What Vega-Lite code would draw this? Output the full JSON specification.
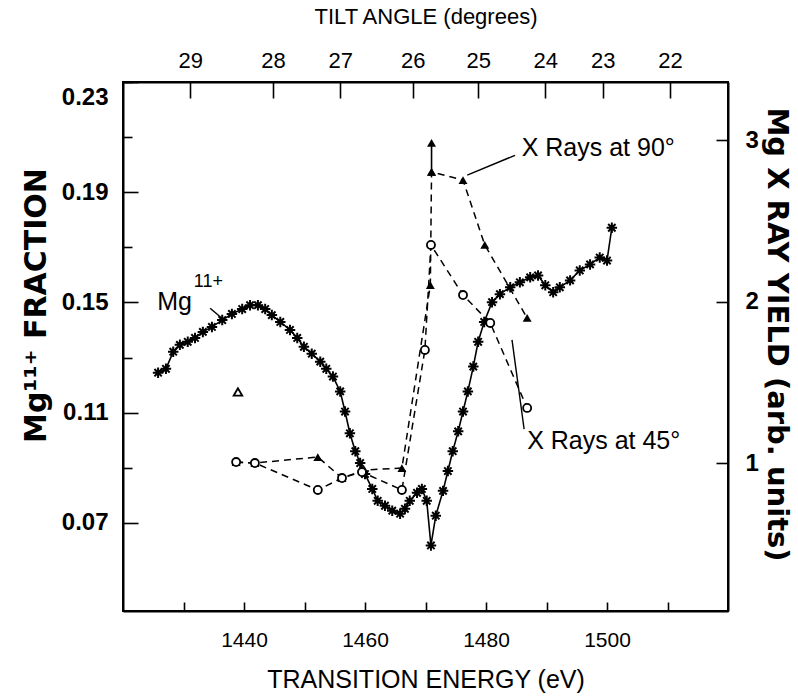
{
  "$schema": "https://vega.github.io/schema/vega-lite/v6.json",
  "width": 605,
  "height": 529,
  "autosize": {"type": "none"},
  "padding": {"left": 123, "top": 82, "right": 70, "bottom": 85},
  "background": "white",
  "config": {
    "view": {"stroke": "black", "strokeWidth": 2},
    "font": "Liberation Sans",
    "axis": {
      "grid": false,
      "domainColor": "black",
      "domainWidth": 2,
      "tickColor": "black",
      "tickWidth": 1.6,
      "labelColor": "black",
      "titleColor": "black",
      "labelFont": "Liberation Sans",
      "titleFont": "Liberation Sans",
      "labelFontSize": 21,
      "titleFontSize": 21,
      "labelFlush": false,
      "labelOverlap": false
    }
  },
  "datasets": {
    "mg": [
      {"energy": 1425.8, "fraction": 0.1245}, {"energy": 1427.1, "fraction": 0.1259},
      {"energy": 1428.3, "fraction": 0.1321}, {"energy": 1429.4, "fraction": 0.1346},
      {"energy": 1430.7, "fraction": 0.1357}, {"energy": 1431.9, "fraction": 0.1371},
      {"energy": 1433.2, "fraction": 0.1393}, {"energy": 1434.7, "fraction": 0.1411},
      {"energy": 1436.4, "fraction": 0.1436}, {"energy": 1438.0, "fraction": 0.1458},
      {"energy": 1439.7, "fraction": 0.1476}, {"energy": 1441.0, "fraction": 0.1490},
      {"energy": 1442.3, "fraction": 0.1490}, {"energy": 1443.5, "fraction": 0.1476},
      {"energy": 1444.6, "fraction": 0.1454}, {"energy": 1446.0, "fraction": 0.1429},
      {"energy": 1447.6, "fraction": 0.1400}, {"energy": 1448.8, "fraction": 0.1371},
      {"energy": 1449.9, "fraction": 0.1339}, {"energy": 1451.2, "fraction": 0.1314},
      {"energy": 1452.6, "fraction": 0.1285}, {"energy": 1453.6, "fraction": 0.1259},
      {"energy": 1454.7, "fraction": 0.1231}, {"energy": 1455.9, "fraction": 0.1177},
      {"energy": 1456.7, "fraction": 0.1104}, {"energy": 1457.5, "fraction": 0.1025},
      {"energy": 1458.4, "fraction": 0.0960}, {"energy": 1459.2, "fraction": 0.0917},
      {"energy": 1460.0, "fraction": 0.0877}, {"energy": 1461.2, "fraction": 0.0823},
      {"energy": 1462.1, "fraction": 0.0780}, {"energy": 1463.3, "fraction": 0.0762},
      {"energy": 1464.5, "fraction": 0.0744}, {"energy": 1465.8, "fraction": 0.0733},
      {"energy": 1466.6, "fraction": 0.0751}, {"energy": 1467.4, "fraction": 0.0780},
      {"energy": 1468.6, "fraction": 0.0809}, {"energy": 1469.4, "fraction": 0.0823},
      {"energy": 1470.2, "fraction": 0.0780}, {"energy": 1470.9, "fraction": 0.0618},
      {"energy": 1471.7, "fraction": 0.0726}, {"energy": 1472.9, "fraction": 0.0816},
      {"energy": 1473.7, "fraction": 0.0888}, {"energy": 1474.5, "fraction": 0.0960},
      {"energy": 1475.4, "fraction": 0.1032}, {"energy": 1476.2, "fraction": 0.1104},
      {"energy": 1477.0, "fraction": 0.1177}, {"energy": 1477.9, "fraction": 0.1267},
      {"energy": 1478.7, "fraction": 0.1357}, {"energy": 1479.7, "fraction": 0.1429},
      {"energy": 1481.0, "fraction": 0.1501}, {"energy": 1482.3, "fraction": 0.1530},
      {"energy": 1484.0, "fraction": 0.1555}, {"energy": 1485.6, "fraction": 0.1573},
      {"energy": 1487.3, "fraction": 0.1591}, {"energy": 1488.6, "fraction": 0.1598},
      {"energy": 1489.8, "fraction": 0.1562}, {"energy": 1491.1, "fraction": 0.1537},
      {"energy": 1492.2, "fraction": 0.1555}, {"energy": 1493.9, "fraction": 0.1580},
      {"energy": 1495.5, "fraction": 0.1616}, {"energy": 1497.2, "fraction": 0.1638},
      {"energy": 1498.8, "fraction": 0.1663}, {"energy": 1500.0, "fraction": 0.1652},
      {"energy": 1500.8, "fraction": 0.1771}
    ],
    "xray": [
      {"angle": "90°", "step": 1, "energy": 1438.7, "yield": 1.009},
      {"angle": "90°", "step": 2, "energy": 1441.8, "yield": 1.003},
      {"angle": "90°", "step": 3, "energy": 1452.2, "yield": 1.040},
      {"angle": "90°", "step": 4, "energy": 1456.2, "yield": 0.910},
      {"angle": "90°", "step": 5, "energy": 1459.9, "yield": 0.960},
      {"angle": "90°", "step": 6, "energy": 1466.1, "yield": 0.972},
      {"angle": "90°", "step": 7, "energy": 1470.8, "yield": 2.105},
      {"angle": "90°", "step": 8, "energy": 1471.0, "yield": 2.805},
      {"angle": "90°", "step": 9, "energy": 1476.2, "yield": 2.755},
      {"angle": "90°", "step": 10, "energy": 1479.8, "yield": 2.353},
      {"angle": "90°", "step": 11, "energy": 1486.8, "yield": 1.901},
      {"angle": "45°", "step": 1, "energy": 1438.7, "yield": 1.009},
      {"angle": "45°", "step": 2, "energy": 1441.8, "yield": 1.003},
      {"angle": "45°", "step": 3, "energy": 1452.2, "yield": 0.836},
      {"angle": "45°", "step": 4, "energy": 1456.2, "yield": 0.910},
      {"angle": "45°", "step": 5, "energy": 1459.5, "yield": 0.947},
      {"angle": "45°", "step": 6, "energy": 1466.1, "yield": 0.836},
      {"angle": "45°", "step": 7, "energy": 1469.9, "yield": 1.703},
      {"angle": "45°", "step": 8, "energy": 1470.9, "yield": 2.353},
      {"angle": "45°", "step": 9, "energy": 1476.2, "yield": 2.043},
      {"angle": "45°", "step": 10, "energy": 1480.7, "yield": 1.870},
      {"angle": "45°", "step": 11, "energy": 1486.8, "yield": 1.344}
    ],
    "peak90": [
      {"energy": 1471.0, "yield": 2.805}, {"energy": 1471.0, "yield": 2.985}
    ],
    "single90": [
      {"energy": 1439.0, "yield": 1.443}
    ],
    "leaders": [
      {"note": "90", "energy": 1476.9, "fraction": 0.1962}, {"note": "90", "energy": 1484.8, "fraction": 0.2034},
      {"note": "45", "energy": 1484.3, "fraction": 0.1364}, {"note": "45", "energy": 1486.3, "fraction": 0.1040},
      {"note": "mg", "energy": 1434.4, "fraction": 0.1479}, {"note": "mg", "energy": 1436.7, "fraction": 0.1436}
    ],
    "notes": [
      {"energy": 1485.9, "fraction": 0.2059, "text": "X Rays at 90°"},
      {"energy": 1486.8, "fraction": 0.0996, "text": "X Rays at 45°"}
    ]
  },
  "layer": [
    {
      "data": {"name": "mg"},
      "mark": {"type": "line", "color": "black", "strokeWidth": 1.6},
      "encoding": {
        "x": {
          "field": "energy", "type": "quantitative",
          "scale": {"domain": [1420, 1520], "nice": false, "zero": false},
          "axis": {
            "orient": "bottom",
            "values": [1430, 1440, 1450, 1460, 1470, 1480, 1490, 1500, 1510],
            "format": "d",
            "labelExpr": "datum.value % 20 === 0 ? datum.label : ''",
            "tickSize": -9,
            "labelPadding": 27,
            "title": "TRANSITION ENERGY (eV)",
            "titleFontSize": 25,
            "titleFontWeight": "normal",
            "titlePadding": 17
          }
        },
        "y": {
          "field": "fraction", "type": "quantitative",
          "scale": {"domain": [0.038, 0.23], "nice": false, "zero": false},
          "axis": {
            "orient": "left",
            "values": [0.07, 0.11, 0.15, 0.19, 0.23],
            "format": ".2f",
            "labelExpr": "datum.value > 0.22 ? '' : datum.label",
            "tickSize": -15,
            "labelPadding": 30,
            "labelFontSize": 24,
            "labelFontWeight": "bold",
            "title": "Mg¹¹⁺ FRACTION",
            "titleFont": "DejaVu Sans",
            "titleFontSize": 30,
            "titleFontWeight": "bold",
            "titleY": 223,
            "titlePadding": 10
          }
        }
      }
    },
    {
      "data": {"name": "mg"},
      "mark": {
        "type": "point",
        "shape": "M-1,0L1,0M0,-1L0,1M-0.7,-0.7L0.7,0.7M-0.7,0.7L0.7,-0.7",
        "filled": false, "color": "black", "strokeWidth": 2, "size": 110, "opacity": 1
      },
      "encoding": {
        "x": {
          "field": "energy", "type": "quantitative",
          "scale": {"domain": [1420, 1520], "nice": false, "zero": false},
          "axis": {
            "orient": "top",
            "values": [1431.1, 1444.8, 1455.9, 1467.9, 1478.7, 1489.8, 1499.3, 1510.4],
            "labelExpr": "datum.value < 1437 ? '29' : datum.value < 1450 ? '28' : datum.value < 1462 ? '27' : datum.value < 1473 ? '26' : datum.value < 1484 ? '25' : datum.value < 1495 ? '24' : datum.value < 1505 ? '23' : '22'",
            "tickSize": -16,
            "labelPadding": 26,
            "labelFontSize": 22,
            "title": "TILT ANGLE (degrees)",
            "titleFontSize": 22,
            "titleFontWeight": "normal",
            "titlePadding": 21
          }
        },
        "y": {
          "field": "fraction", "type": "quantitative",
          "scale": {"domain": [0.038, 0.23], "nice": false, "zero": false},
          "axis": {
            "orient": "left",
            "values": [0.09, 0.13, 0.17, 0.21, 0.23],
            "format": ".2f",
            "labelExpr": "datum.value > 0.22 ? datum.label : ''",
            "labelOffset": 15,
            "tickSize": -9,
            "labelPadding": 24,
            "labelFontSize": 24,
            "labelFontWeight": "bold",
            "domain": false,
            "title": null
          }
        }
      }
    },
    {
      "data": {"name": "xray"},
      "mark": {"type": "line", "color": "black", "strokeWidth": 1.5, "strokeDash": [7, 5]},
      "encoding": {
        "x": {"field": "energy", "type": "quantitative", "scale": {"domain": [1420, 1520], "nice": false, "zero": false}, "axis": null},
        "y": {
          "field": "yield", "type": "quantitative",
          "scale": {"domain": [0.0867, 3.362], "nice": false, "zero": false},
          "axis": {
            "orient": "right",
            "values": [1, 2, 3],
            "format": "d",
            "tickSize": -12,
            "labelPadding": 29,
            "labelFontSize": 24,
            "labelFontWeight": "bold",
            "title": "Mg X RAY YIELD (arb. units)",
            "titleFont": "DejaVu Sans",
            "titleFontSize": 29,
            "titleFontWeight": "bold",
            "titleY": 252,
            "titlePadding": 3
          }
        },
        "detail": {"field": "angle", "type": "nominal"},
        "order": {"field": "step", "type": "quantitative"}
      }
    },
    {
      "data": {"name": "xray"},
      "transform": [{"filter": "datum.angle === '90°'"}],
      "mark": {"type": "point", "shape": "triangle-up", "filled": true, "color": "black", "size": 80, "opacity": 1},
      "encoding": {
        "x": {"field": "energy", "type": "quantitative", "scale": {"domain": [1420, 1520], "nice": false, "zero": false}, "axis": null},
        "y": {"field": "yield", "type": "quantitative", "scale": {"domain": [0.0867, 3.362], "nice": false, "zero": false}, "axis": null}
      }
    },
    {
      "data": {"name": "xray"},
      "transform": [{"filter": "datum.angle === '45°'"}],
      "mark": {"type": "point", "shape": "circle", "filled": true, "fill": "white", "stroke": "black", "strokeWidth": 1.8, "size": 65, "opacity": 1},
      "encoding": {
        "x": {"field": "energy", "type": "quantitative", "scale": {"domain": [1420, 1520], "nice": false, "zero": false}, "axis": null},
        "y": {"field": "yield", "type": "quantitative", "scale": {"domain": [0.0867, 3.362], "nice": false, "zero": false}, "axis": null}
      }
    },
    {
      "data": {"name": "peak90"},
      "mark": {"type": "line", "color": "black", "strokeWidth": 1.6},
      "encoding": {
        "x": {"field": "energy", "type": "quantitative", "scale": {"domain": [1420, 1520], "nice": false, "zero": false}, "axis": null},
        "y": {"field": "yield", "type": "quantitative", "scale": {"domain": [0.0867, 3.362], "nice": false, "zero": false}, "axis": null}
      }
    },
    {
      "data": {"name": "peak90"},
      "mark": {"type": "point", "shape": "triangle-up", "filled": true, "color": "black", "size": 80, "opacity": 1},
      "encoding": {
        "x": {"field": "energy", "type": "quantitative", "scale": {"domain": [1420, 1520], "nice": false, "zero": false}, "axis": null},
        "y": {"field": "yield", "type": "quantitative", "scale": {"domain": [0.0867, 3.362], "nice": false, "zero": false}, "axis": null}
      }
    },
    {
      "data": {"name": "single90"},
      "mark": {"type": "point", "shape": "triangle-up", "filled": true, "fill": "white", "stroke": "black", "strokeWidth": 1.8, "size": 75, "opacity": 1},
      "encoding": {
        "x": {"field": "energy", "type": "quantitative", "scale": {"domain": [1420, 1520], "nice": false, "zero": false}, "axis": null},
        "y": {"field": "yield", "type": "quantitative", "scale": {"domain": [0.0867, 3.362], "nice": false, "zero": false}, "axis": null}
      }
    },
    {
      "data": {"name": "leaders"},
      "mark": {"type": "line", "color": "black", "strokeWidth": 1.4},
      "encoding": {
        "x": {"field": "energy", "type": "quantitative", "scale": {"domain": [1420, 1520], "nice": false, "zero": false}, "axis": null},
        "y": {"field": "fraction", "type": "quantitative", "scale": {"domain": [0.038, 0.23], "nice": false, "zero": false}, "axis": null},
        "detail": {"field": "note", "type": "nominal"}
      }
    },
    {
      "data": {"name": "notes"},
      "mark": {"type": "text", "align": "left", "baseline": "middle", "fontSize": 25, "font": "Liberation Sans", "color": "black"},
      "encoding": {
        "x": {"field": "energy", "type": "quantitative", "scale": {"domain": [1420, 1520], "nice": false, "zero": false}, "axis": null},
        "y": {"field": "fraction", "type": "quantitative", "scale": {"domain": [0.038, 0.23], "nice": false, "zero": false}, "axis": null},
        "text": {"field": "text", "type": "nominal"}
      }
    },
    {
      "data": {"values": [{"energy": 1431.4, "fraction": 0.1501, "text": "Mg"}]},
      "mark": {"type": "text", "align": "right", "baseline": "middle", "fontSize": 25, "font": "Liberation Sans", "color": "black"},
      "encoding": {
        "x": {"field": "energy", "type": "quantitative", "scale": {"domain": [1420, 1520], "nice": false, "zero": false}, "axis": null},
        "y": {"field": "fraction", "type": "quantitative", "scale": {"domain": [0.038, 0.23], "nice": false, "zero": false}, "axis": null},
        "text": {"field": "text", "type": "nominal"}
      }
    },
    {
      "data": {"values": [{"energy": 1431.7, "fraction": 0.1573, "text": "11+"}]},
      "mark": {"type": "text", "align": "left", "baseline": "middle", "fontSize": 18, "font": "Liberation Sans", "color": "black"},
      "encoding": {
        "x": {"field": "energy", "type": "quantitative", "scale": {"domain": [1420, 1520], "nice": false, "zero": false}, "axis": null},
        "y": {"field": "fraction", "type": "quantitative", "scale": {"domain": [0.038, 0.23], "nice": false, "zero": false}, "axis": null},
        "text": {"field": "text", "type": "nominal"}
      }
    }
  ],
  "resolve": {"scale": {"y": "independent"}, "axis": {"x": "independent", "y": "independent"}}
}
